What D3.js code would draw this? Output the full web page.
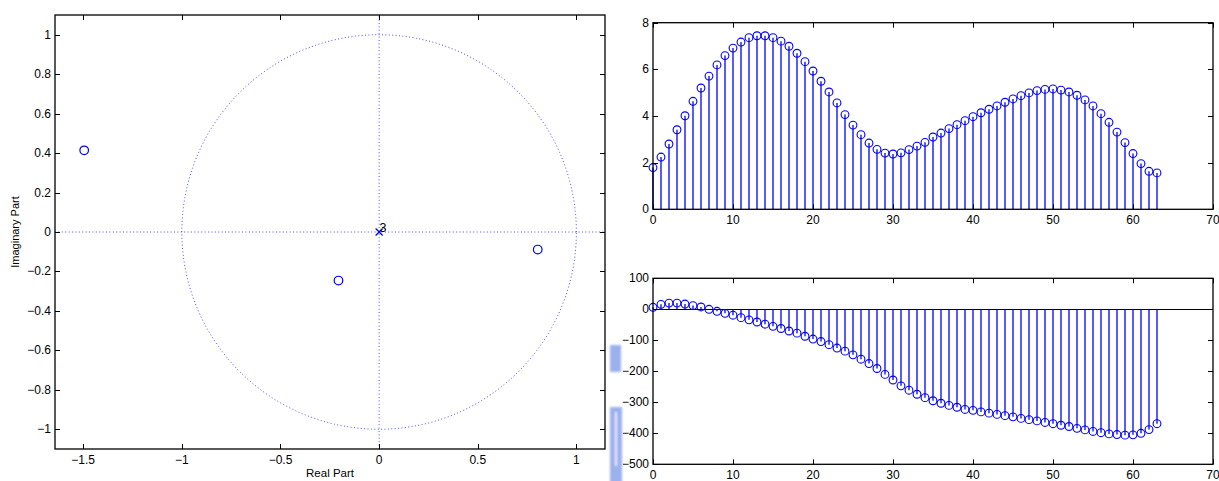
<!DOCTYPE html>
<html>
<head>
<meta charset="utf-8">
<script src="https://cdn.jsdelivr.net/npm/d3@7/dist/d3.min.js"></script>
<style>
  html, body { margin: 0; padding: 0; background: #fff; }
  svg { display: block; }
  text { font-family: "Liberation Sans", Arial, Helvetica, sans-serif; fill: #000; }
</style>
</head>
<body>
<svg id="fig" width="1219" height="481"></svg>
<script>
// Pole-zero locations
const zerosRe = [-1.495, -0.206, 0.804];
const zerosIm = [0.414, -0.246, -0.089];
const polesRe = [0];
const polesIm = [0];
const poleMultiplicity = ["3"];

// Frequency response samples, n = 0..63
const sampleIndex = d3.range(64);
const magnitude = [
  1.79, 2.24, 2.80, 3.41, 4.01, 4.63, 5.20, 5.71, 6.19, 6.59,
  6.91, 7.17, 7.36, 7.44, 7.44, 7.36, 7.21, 6.99, 6.69, 6.33,
  5.93, 5.49, 5.03, 4.56, 4.06, 3.61, 3.20, 2.84, 2.57, 2.41,
  2.37, 2.42, 2.56, 2.71, 2.87, 3.10, 3.27, 3.46, 3.63, 3.80,
  3.97, 4.14, 4.29, 4.43, 4.59, 4.73, 4.87, 4.99, 5.09, 5.14,
  5.16, 5.11, 5.03, 4.89, 4.69, 4.43, 4.10, 3.73, 3.31, 2.86,
  2.39, 1.96, 1.63, 1.56
];
const phaseDeg = [
  6.5, 16, 20, 20, 17, 12, 7.5, 0, -6.5, -13,
  -19, -27, -34, -41, -48, -55, -62, -70, -77, -87,
  -96, -104, -114, -125, -135, -147, -161, -175, -191, -210,
  -228, -247, -261, -274, -285, -295, -303, -310, -316, -323,
  -326, -331, -335, -339, -343, -347, -352, -356, -360, -365,
  -369, -374, -378, -384, -389, -394, -398, -402, -404, -406,
  -405, -400, -388, -369
];

// Tick values
const pzXTicks = [-1.5, -1, -0.5, 0, 0.5, 1];
const pzYTicks = [-1, -0.8, -0.6, -0.4, -0.2, 0, 0.2, 0.4, 0.6, 0.8, 1];
const nTicks = [0, 10, 20, 30, 40, 50, 60, 70];
const magTicks = [0, 2, 4, 6, 8];
const phaseTicks = [-500, -400, -300, -200, -100, 0, 100];

const svg = d3.select("#fig");
const BLUE = "#0000ff";
const fmt = v => String(v).replace("-", "\u2212");

// Box with inward ticks on all four sides
function frame(g, x, y, xt, yt) {
  const [x0, x1] = x.range();
  const [y0, y1] = y.range();
  const tl = 5;
  const t = g.append("g").attr("stroke", "#000").attr("stroke-width", 1);
  xt.forEach(v => {
    const px = Math.round(x(v)) + 0.5;
    t.append("line").attr("x1", px).attr("x2", px).attr("y1", y0).attr("y2", y0 - tl);
    t.append("line").attr("x1", px).attr("x2", px).attr("y1", y1).attr("y2", y1 + tl);
  });
  yt.forEach(v => {
    const py = Math.round(y(v)) + 0.5;
    t.append("line").attr("x1", x0).attr("x2", x0 + tl).attr("y1", py).attr("y2", py);
    t.append("line").attr("x1", x1).attr("x2", x1 - tl).attr("y1", py).attr("y2", py);
  });
  g.append("rect")
    .attr("x", x0).attr("y", y1).attr("width", x1 - x0).attr("height", y0 - y1)
    .attr("fill", "none").attr("stroke", "#000").attr("stroke-width", 1.3);
  const lab = g.append("g").attr("font-size", 12);
  xt.forEach(v => {
    lab.append("text").attr("x", x(v)).attr("y", y0 + 15)
      .attr("text-anchor", "middle").text(fmt(v));
  });
  yt.forEach(v => {
    lab.append("text").attr("x", x0 - 4).attr("y", y(v) + 4)
      .attr("text-anchor", "end").text(fmt(v));
  });
}

// ---------- Pole-zero plot ----------
{
  const x = d3.scaleLinear().domain([-1.643, 1.145]).range([55, 605]);
  const y = d3.scaleLinear().domain([-1.1, 1.1]).range([449, 15]);
  const g = svg.append("g");
  const dots = g.append("g").attr("stroke", BLUE).attr("stroke-opacity", 0.7)
    .attr("stroke-width", 1).attr("stroke-dasharray", "1,2.4").attr("fill", "none");
  const circ = d3.range(0, 361, 1).map(a => [Math.cos(a * Math.PI / 180), Math.sin(a * Math.PI / 180)]);
  dots.append("path").attr("d", d3.line().x(d => x(d[0])).y(d => y(d[1]))(circ));
  dots.append("line").attr("x1", x.range()[0]).attr("x2", x.range()[1]).attr("y1", y(0)).attr("y2", y(0));
  dots.append("line").attr("x1", x(0)).attr("x2", x(0)).attr("y1", y.range()[0]).attr("y2", y.range()[1]);

  g.append("g").selectAll("circle").data(zerosRe).join("circle")
    .attr("cx", (d, i) => x(d)).attr("cy", (d, i) => y(zerosIm[i])).attr("r", 4.3)
    .attr("fill", "none").attr("stroke", BLUE).attr("stroke-width", 1.2);

  const pg = g.append("g").attr("stroke", BLUE).attr("stroke-width", 1.2);
  polesRe.forEach((d, i) => {
    const cx = x(d), cy = y(polesIm[i]), s = 3.5;
    pg.append("line").attr("x1", cx - s).attr("x2", cx + s).attr("y1", cy - s).attr("y2", cy + s);
    pg.append("line").attr("x1", cx - s).attr("x2", cx + s).attr("y1", cy + s).attr("y2", cy - s);
    g.append("text").attr("x", cx + 0.5).attr("y", cy - 0.5).attr("font-size", 12.5).text(poleMultiplicity[i]);
  });

  frame(g, x, y, pzXTicks, pzYTicks);
  g.append("text").attr("x", (55 + 605) / 2).attr("y", 477).attr("font-size", 11.5)
    .attr("text-anchor", "middle").text("Real Part");
  g.append("text").attr("transform", `translate(19,${(15 + 449) / 2}) rotate(-90)`)
    .attr("font-size", 11).attr("text-anchor", "middle").text("Imaginary Part");
}

// ---------- Stem plots ----------
function stemPlot(values, yDomain, yRange, yTicks, showBaseline) {
  const x = d3.scaleLinear().domain([0, 70]).range([653, 1213]);
  const y = d3.scaleLinear().domain(yDomain).range(yRange);
  const g = svg.append("g");
  if (showBaseline) {
    g.append("line").attr("x1", x(0)).attr("x2", x(70)).attr("y1", Math.round(y(0)) + 0.5).attr("y2", Math.round(y(0)) + 0.5)
      .attr("stroke", "#000").attr("stroke-width", 1);
  }
  g.append("g").selectAll("line").data(values).join("line")
    .attr("x1", (d, i) => x(sampleIndex[i]))
    .attr("x2", (d, i) => x(sampleIndex[i]))
    .attr("y1", y(0)).attr("y2", d => y(d))
    .attr("stroke", BLUE).attr("stroke-width", 1.3);
  g.append("g").selectAll("circle").data(values).join("circle")
    .attr("cx", (d, i) => x(sampleIndex[i])).attr("cy", d => y(d)).attr("r", 3.9)
    .attr("fill", "none").attr("stroke", BLUE).attr("stroke-width", 1.1);
  frame(g, x, y, nTicks, yTicks);
}
stemPlot(magnitude, [0, 8], [209.3, 22.7], magTicks, false);
stemPlot(phaseDeg, [-500, 100], [464.3, 278.3], phaseTicks, true);

// Soft bluish smudges between the panels
const defs = svg.append("defs");
defs.append("filter").attr("id", "soft").append("feGaussianBlur").attr("stdDeviation", 1.3);
const sm = svg.append("g").attr("filter", "url(#soft)");
sm.append("rect").attr("x", 610).attr("y", 345).attr("width", 11).attr("height", 27).attr("fill", "#9cb0ee");
sm.append("rect").attr("x", 610).attr("y", 407).attr("width", 12).attr("height", 76).attr("fill", "#9cb0ee");
sm.append("rect").attr("x", 615).attr("y", 412).attr("width", 2).attr("height", 54).attr("fill", "#e8ecfb");
</script>
</body>
</html>
